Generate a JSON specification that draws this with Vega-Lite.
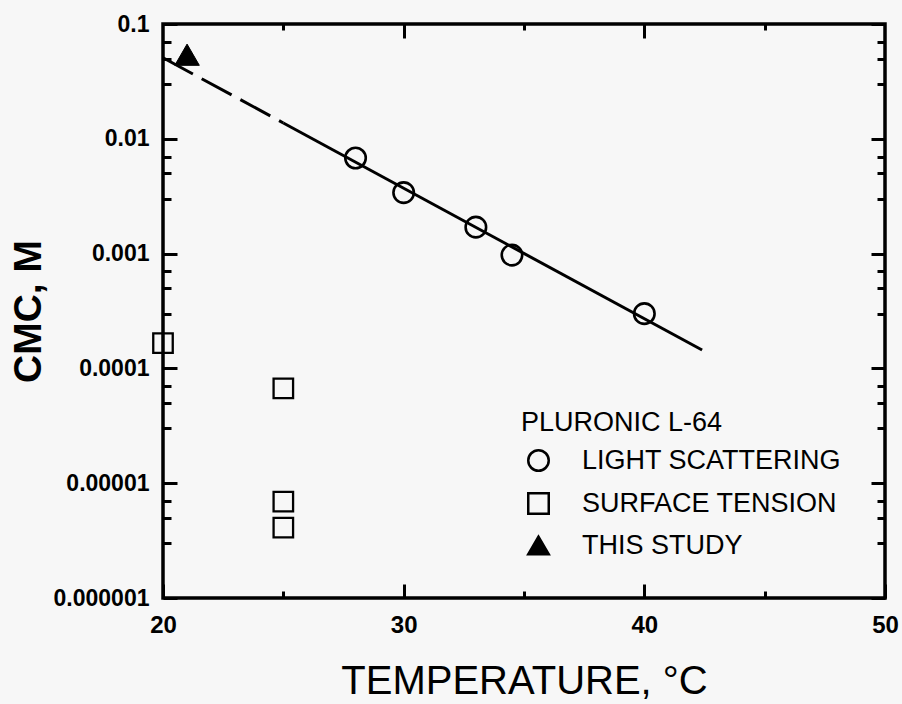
{
  "$schema": "https://vega.github.io/schema/vega-lite/v6.json",
  "width": 722,
  "height": 574,
  "autosize": {"type": "none"},
  "padding": {"left": 163, "top": 24, "right": 17, "bottom": 106},
  "background": "#f7f7f7",
  "datasets": {
    "cmc": [
      {"T": 28.0, "cmc": 0.0068, "method": "LIGHT SCATTERING"},
      {"T": 30.0, "cmc": 0.0034, "method": "LIGHT SCATTERING"},
      {"T": 33.0, "cmc": 0.0017, "method": "LIGHT SCATTERING"},
      {"T": 34.5, "cmc": 0.00097, "method": "LIGHT SCATTERING"},
      {"T": 40.0, "cmc": 0.0003, "method": "LIGHT SCATTERING"},
      {"T": 20.0, "cmc": 0.000166, "method": "SURFACE TENSION"},
      {"T": 25.0, "cmc": 0.000067, "method": "SURFACE TENSION"},
      {"T": 25.0, "cmc": 0.0000069, "method": "SURFACE TENSION"},
      {"T": 25.0, "cmc": 0.0000041, "method": "SURFACE TENSION"},
      {"T": 21.0, "cmc": 0.054, "method": "THIS STUDY"}
    ],
    "fit": [
      {"T": 25.0, "cmc": 0.01374, "part": "measured"},
      {"T": 42.4, "cmc": 0.0001445, "part": "measured"},
      {"T": 20.0, "cmc": 0.0508, "part": "extrapolated"},
      {"T": 25.0, "cmc": 0.01374, "part": "extrapolated"}
    ]
  },
  "resolve": {"axis": {"x": "independent", "y": "independent"}},
  "layer": [
    {
      "data": {"name": "fit"},
      "transform": [{"filter": "datum.part === 'measured'"}],
      "mark": {"type": "line", "color": "black", "strokeWidth": 3},
      "encoding": {
        "x": {"field": "T", "type": "quantitative",
              "scale": {"domain": [20, 50], "nice": false, "zero": false},
              "axis": {"orient": "top", "values": [30, 40], "labels": false, "tickSize": -14, "title": null}},
        "y": {"field": "cmc", "type": "quantitative",
              "scale": {"type": "log", "domain": [0.000001, 0.1], "nice": false},
              "axis": {"orient": "right", "values": [0.000001, 0.00001, 0.0001, 0.001, 0.01, 0.1], "labels": false, "tickSize": -14, "title": null}}
      }
    },
    {
      "data": {"name": "fit"},
      "transform": [{"filter": "datum.part === 'extrapolated'"}],
      "mark": {"type": "line", "color": "black", "strokeWidth": 3, "strokeDash": [34, 10]},
      "encoding": {
        "x": {"field": "T", "type": "quantitative",
              "scale": {"domain": [20, 50], "nice": false, "zero": false},
              "axis": {"orient": "top", "values": [25, 35, 45], "labels": false, "tickSize": -6, "title": null}},
        "y": {"field": "cmc", "type": "quantitative",
              "scale": {"type": "log", "domain": [0.000001, 0.1], "nice": false},
              "axis": {"orient": "right", "values": [0.000003, 0.000005, 0.000007, 0.00003, 0.00005, 0.00007, 0.0003, 0.0005, 0.0007, 0.003, 0.005, 0.007, 0.03, 0.05, 0.07], "labels": false, "tickSize": -8, "title": null}}
      }
    },
    {
      "data": {"name": "cmc"},
      "transform": [{"filter": "datum.method === 'LIGHT SCATTERING'"}],
      "mark": {"type": "point", "size": 420, "strokeWidth": 2.6, "opacity": 1},
      "encoding": {
        "x": {"field": "T", "type": "quantitative",
              "scale": {"domain": [20, 50], "nice": false, "zero": false},
              "axis": {"orient": "bottom", "values": [20, 30, 40, 50], "ticks": false, "labelPadding": 15, "labelFlush": false,
                       "labelFontSize": 24, "labelFontWeight": "bold", "title": "TEMPERATURE, °C",
                       "titleFontSize": 40, "titleFontWeight": "normal", "titlePadding": 24}},
        "y": {"field": "cmc", "type": "quantitative",
              "scale": {"type": "log", "domain": [0.000001, 0.1], "nice": false},
              "axis": {"orient": "left", "values": [0.000001, 0.00001, 0.0001, 0.001, 0.01, 0.1], "ticks": false, "labelFlush": false,
                       "format": ".6~f", "labelPadding": 14, "labelFontSize": 23, "labelFontWeight": "bold",
                       "title": "CMC, M", "titleFontSize": 39, "titleFontWeight": "bold", "titlePadding": 5}},
        "shape": {"field": "method", "type": "nominal", "title": "PLURONIC L-64",
                  "scale": {"domain": ["LIGHT SCATTERING", "SURFACE TENSION", "THIS STUDY"], "range": ["circle", "square", "triangle-up"]},
                  "legend": {"orient": "none", "legendX": 358, "legendY": 386}},
        "fill": {"field": "method", "type": "nominal", "title": "PLURONIC L-64",
                 "scale": {"domain": ["LIGHT SCATTERING", "SURFACE TENSION", "THIS STUDY"], "range": ["transparent", "transparent", "black"]}},
        "stroke": {"field": "method", "type": "nominal", "title": "PLURONIC L-64",
                   "scale": {"domain": ["LIGHT SCATTERING", "SURFACE TENSION", "THIS STUDY"], "range": ["black", "black", "black"]}}
      }
    },
    {
      "data": {"name": "cmc"},
      "transform": [{"filter": "datum.method === 'SURFACE TENSION'"}],
      "mark": {"type": "point", "size": 380, "strokeWidth": 2.3, "opacity": 1},
      "encoding": {
        "x": {"field": "T", "type": "quantitative",
              "scale": {"domain": [20, 50], "nice": false, "zero": false},
              "axis": {"orient": "bottom", "values": [20, 30, 40, 50], "labels": false, "tickSize": -14, "title": null}},
        "y": {"field": "cmc", "type": "quantitative",
              "scale": {"type": "log", "domain": [0.000001, 0.1], "nice": false},
              "axis": {"orient": "left", "values": [0.000001, 0.00001, 0.0001, 0.001, 0.01, 0.1], "labels": false, "tickSize": -14, "title": null}},
        "shape": {"field": "method", "type": "nominal", "title": "PLURONIC L-64",
                  "scale": {"domain": ["LIGHT SCATTERING", "SURFACE TENSION", "THIS STUDY"], "range": ["circle", "square", "triangle-up"]}},
        "fill": {"field": "method", "type": "nominal", "title": "PLURONIC L-64",
                 "scale": {"domain": ["LIGHT SCATTERING", "SURFACE TENSION", "THIS STUDY"], "range": ["transparent", "transparent", "black"]}},
        "stroke": {"field": "method", "type": "nominal", "title": "PLURONIC L-64",
                   "scale": {"domain": ["LIGHT SCATTERING", "SURFACE TENSION", "THIS STUDY"], "range": ["black", "black", "black"]}}
      }
    },
    {
      "data": {"name": "cmc"},
      "transform": [{"filter": "datum.method === 'THIS STUDY'"}],
      "mark": {"type": "point", "size": 600, "strokeWidth": 1, "opacity": 1},
      "encoding": {
        "x": {"field": "T", "type": "quantitative",
              "scale": {"domain": [20, 50], "nice": false, "zero": false},
              "axis": {"orient": "bottom", "values": [25, 35, 45], "labels": false, "tickSize": -7, "title": null}},
        "y": {"field": "cmc", "type": "quantitative",
              "scale": {"type": "log", "domain": [0.000001, 0.1], "nice": false},
              "axis": {"orient": "left", "values": [0.000003, 0.000005, 0.000007, 0.00003, 0.00005, 0.00007, 0.0003, 0.0005, 0.0007, 0.003, 0.005, 0.007, 0.03, 0.05, 0.07], "labels": false, "tickSize": -8, "title": null}},
        "shape": {"field": "method", "type": "nominal", "title": "PLURONIC L-64",
                  "scale": {"domain": ["LIGHT SCATTERING", "SURFACE TENSION", "THIS STUDY"], "range": ["circle", "square", "triangle-up"]}},
        "fill": {"field": "method", "type": "nominal", "title": "PLURONIC L-64",
                 "scale": {"domain": ["LIGHT SCATTERING", "SURFACE TENSION", "THIS STUDY"], "range": ["transparent", "transparent", "black"]}},
        "stroke": {"field": "method", "type": "nominal", "title": "PLURONIC L-64",
                   "scale": {"domain": ["LIGHT SCATTERING", "SURFACE TENSION", "THIS STUDY"], "range": ["black", "black", "black"]}}
      }
    }
  ],
  "config": {
    "font": "Liberation Sans",
    "view": {"stroke": "black", "strokeWidth": 3.5},
    "axis": {"grid": false, "domain": false, "tickColor": "black", "tickWidth": 3, "labelColor": "black", "titleColor": "black"},
    "legend": {
      "titleFontSize": 27, "titleFontWeight": "normal", "titleColor": "black", "titlePadding": 10, "titleLimit": 500,
      "labelFontSize": 27, "labelColor": "black", "labelOffset": 30, "rowPadding": 12, "labelLimit": 500,
      "symbolSize": 420, "symbolStrokeWidth": 2.5, "symbolOffset": 4, "padding": 0
    }
  }
}
